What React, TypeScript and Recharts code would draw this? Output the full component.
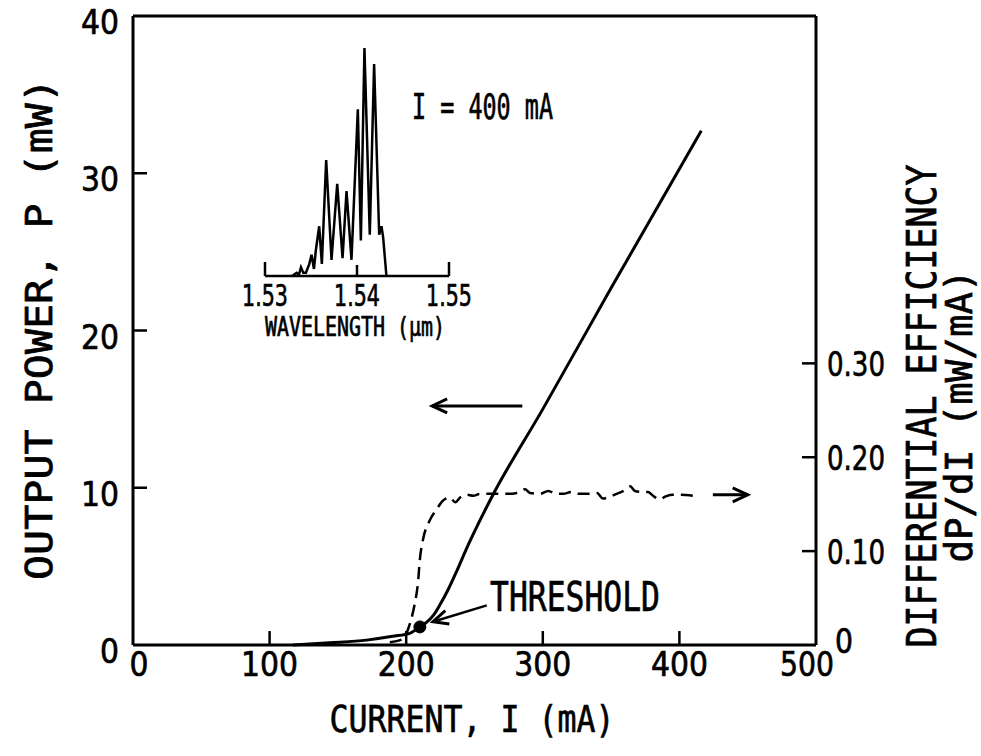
import React from 'react';
import { LineChart, Line, XAxis, YAxis, ReferenceDot } from 'recharts';

const W = 981;
const H = 756;
const FONT = '"DejaVu Sans", sans-serif';
const MONO = '"DejaVu Sans Mono", monospace';

// axis ticks
const currentTicks = [0, 100, 200, 300, 400, 500];
const powerTicks = [0, 10, 20, 30, 40];
const effTicks = [0, 0.1, 0.2, 0.3];
const topTicks = [100, 200, 300, 400];
const wlTicks = [1.53, 1.54, 1.55];

// output power P (mW) vs current I (mA), solid curve
const powerCurve = [
  { i: 117, p: 0 },
  { i: 144, p: 0.14 },
  { i: 171, p: 0.31 },
  { i: 190, p: 0.55 },
  { i: 203, p: 0.76 },
  { i: 210, p: 1.15 },
  { i: 215, p: 1.45 },
  { i: 220, p: 1.9 },
  { i: 225, p: 2.6 },
  { i: 230, p: 3.4 },
  { i: 237, p: 4.7 },
  { i: 244, p: 6.1 },
  { i: 262, p: 9.3 },
  { i: 300, p: 15.0 },
  { i: 350, p: 22.7 },
  { i: 416, p: 32.7 },
];

// differential efficiency dP/dI (mW/mA), dashed curve
const effCurve = [
  { i: 188, v: 0.003 },
  { i: 197, v: 0.006 },
  { i: 203, v: 0.024 },
  { i: 206.4, v: 0.045 },
  { i: 208.6, v: 0.066 },
  { i: 210, v: 0.091 },
  { i: 212.4, v: 0.113 },
  { i: 217, v: 0.132 },
  { i: 222.5, v: 0.145 },
  { i: 227, v: 0.154 },
  { i: 232, v: 0.157 },
  { i: 236, v: 0.152 },
  { i: 239.4, v: 0.157 },
  { i: 244.5, v: 0.16 },
  { i: 249, v: 0.159 },
  { i: 254, v: 0.161 },
  { i: 260, v: 0.161 },
  { i: 266.5, v: 0.161 },
  { i: 274, v: 0.161 },
  { i: 281, v: 0.162 },
  { i: 287, v: 0.166 },
  { i: 290.6, v: 0.162 },
  { i: 298, v: 0.161 },
  { i: 304, v: 0.164 },
  { i: 310, v: 0.161 },
  { i: 315, v: 0.161 },
  { i: 321, v: 0.163 },
  { i: 327, v: 0.161 },
  { i: 332, v: 0.161 },
  { i: 339.7, v: 0.162 },
  { i: 344, v: 0.156 },
  { i: 349, v: 0.158 },
  { i: 354, v: 0.161 },
  { i: 358.7, v: 0.164 },
  { i: 364, v: 0.169 },
  { i: 367.5, v: 0.164 },
  { i: 372.6, v: 0.163 },
  { i: 377, v: 0.163 },
  { i: 380.7, v: 0.159 },
  { i: 385.8, v: 0.155 },
  { i: 389.5, v: 0.158 },
  { i: 394.6, v: 0.16 },
  { i: 400.4, v: 0.16 },
  { i: 410, v: 0.159 },
];

// threshold point
const thresholdI = 210;
const thresholdP = 1.15;

// arrows (tail first, head last)
const leftArrow = [{ i: 285, p: 15.2 }, { i: 219, p: 15.2 }];
const rightArrow = [{ i: 424.5, v: 0.16 }, { i: 450, v: 0.16 }];
const thresholdArrow = [{ i: 259, p: 2.52 }, { i: 219.6, p: 1.48 }];

// inset spectrum at I = 400 mA, relative intensity
const spectrum = [
  { wl: 1.5329, s: 0 },
  { wl: 1.53307, s: 0.3 },
  { wl: 1.53344, s: 1.4 },
  { wl: 1.53369, s: 0.6 },
  { wl: 1.53391, s: 3.8 },
  { wl: 1.53416, s: 1.4 },
  { wl: 1.53445, s: 1.4 },
  { wl: 1.53481, s: 5.2 },
  { wl: 1.53506, s: 9.3 },
  { wl: 1.53532, s: 3.1 },
  { wl: 1.53553, s: 11.4 },
  { wl: 1.53589, s: 21.8 },
  { wl: 1.53618, s: 5.3 },
  { wl: 1.53665, s: 50.8 },
  { wl: 1.53723, s: 7.1 },
  { wl: 1.53785, s: 40.4 },
  { wl: 1.53843, s: 7.8 },
  { wl: 1.53886, s: 37.2 },
  { wl: 1.5394, s: 7.1 },
  { wl: 1.54009, s: 73.1 },
  { wl: 1.54042, s: 15.6 },
  { wl: 1.54081, s: 100 },
  { wl: 1.54139, s: 18.1 },
  { wl: 1.54186, s: 93 },
  { wl: 1.54241, s: 18.1 },
  { wl: 1.54266, s: 21.8 },
  { wl: 1.54284, s: 17 },
  { wl: 1.5432, s: 0 },
];

const labelText = (
  s: string,
  x: number,
  y: number,
  anchor: string,
  size: number,
  len: number,
  family: string = FONT,
) => (
  <text
    x={x}
    y={y}
    textAnchor={anchor as any}
    fontSize={size}
    fontFamily={family}
    fill="#000"
    stroke="#000"
    strokeWidth={0.7}
    textLength={len}
    lengthAdjust="spacingAndGlyphs"
  >
    {s}
  </text>
);

const BottomTick = (props: any) => {
  const { x, y, payload } = props;
  const v = payload.value;
  const s = String(v);
  // printed labels sit a little inside the frame at both ends
  const dx = v === 0 ? 6 : v === 500 ? -9 : 0;
  const len = v === 500 ? 54 : s.length * 19;
  return (
    <g>
      {v > 0 && v < 500 && <line x1={x} y1={y} x2={x} y2={y - 14} stroke="#000" strokeWidth={2.5} />}
      {labelText(s, x + dx, y + 31, 'middle', 34, len)}
    </g>
  );
};

const TopTick = (props: any) => {
  const { x, y } = props;
  return <line x1={x} y1={y} x2={x} y2={y + 13} stroke="#000" strokeWidth={2.5} />;
};

const LeftTick = (props: any) => {
  const { x, y, payload } = props;
  const v = payload.value;
  const s = String(v);
  return (
    <g>
      {v > 0 && v < 40 && <line x1={x} y1={y} x2={x + 14} y2={y} stroke="#000" strokeWidth={2.5} />}
      {labelText(s, x - 14, y + 18, 'end', 34, s.length * 19)}
    </g>
  );
};

const RightTick = (props: any) => {
  const { x, y, payload } = props;
  const v = payload.value;
  const s = v === 0 ? '0' : v.toFixed(2);
  return (
    <g>
      {v > 0 && <line x1={x} y1={y} x2={x - 14} y2={y} stroke="#000" strokeWidth={2.5} />}
      {labelText(s, v === 0 ? x + 19 : x + 11, v === 0 ? y + 8 : y + 13, 'start', 34, v === 0 ? 18 : 58)}
    </g>
  );
};

const WlTick = (props: any) => {
  const { x, y, payload } = props;
  const v = payload.value;
  const s = v.toFixed(2);
  const len = v === 1.54 ? 11 : 14;
  return (
    <g>
      <line x1={x} y1={y} x2={x} y2={y - len} stroke="#000" strokeWidth={2.5} />
      {labelText(s, x, y + 30, 'middle', 30, 46)}
    </g>
  );
};

// arrow head drawn at the last point of a two-point line
const arrowHead = (props: any) => {
  const { cx, cy, index, points } = props;
  if (!points || index !== points.length - 1) return <g key={`a${index}`} />;
  const prev = points[index - 1];
  const ang = Math.atan2(cy - prev.y, cx - prev.x);
  const len = 15;
  const w = 7;
  const bx = cx - len * Math.cos(ang);
  const by = cy - len * Math.sin(ang);
  const px = -Math.sin(ang) * w;
  const py = Math.cos(ang) * w;
  return (
    <path
      key={`a${index}`}
      d={`M${bx + px},${by + py} L${cx},${cy} L${bx - px},${by - py}`}
      fill="none"
      stroke="#000"
      strokeWidth={3}
    />
  );
};

const axisStroke = { stroke: '#000', strokeWidth: 3 };

export default function App() {
  return (
    <div style={{ position: 'absolute', left: 0, top: 0, width: W, height: H, background: '#fff' }}>
      <div style={{ position: 'absolute', left: 0, top: 0 }}>
        <LineChart width={W} height={H} margin={{ top: 15, right: W - 817, bottom: H - 646, left: 132 }}>
          <XAxis
            xAxisId={0}
            dataKey="i"
            type="number"
            domain={[0, 500]}
            ticks={currentTicks}
            interval={0}
            height={1}
            tickSize={0}
            tickMargin={0}
            tickLine={false}
            tick={BottomTick}
            axisLine={axisStroke}
          />
          <XAxis
            xAxisId="top"
            orientation="top"
            dataKey="i"
            type="number"
            domain={[0, 500]}
            ticks={topTicks}
            interval={0}
            height={1}
            tickSize={0}
            tickMargin={0}
            tickLine={false}
            tick={TopTick}
            axisLine={axisStroke}
          />
          <YAxis
            yAxisId="left"
            type="number"
            domain={[0, 40]}
            ticks={powerTicks}
            interval={0}
            width={1}
            tickSize={0}
            tickMargin={0}
            tickLine={false}
            tick={LeftTick}
            axisLine={axisStroke}
          />
          <YAxis
            yAxisId="right"
            orientation="right"
            type="number"
            domain={[0, 0.67]}
            ticks={effTicks}
            interval={0}
            width={1}
            tickSize={0}
            tickMargin={0}
            tickLine={false}
            tick={RightTick}
            axisLine={axisStroke}
          />
          <Line
            yAxisId="left"
            data={powerCurve}
            dataKey="p"
            type="monotone"
            stroke="#000"
            strokeWidth={3}
            dot={false}
            isAnimationActive={false}
          />
          <Line
            yAxisId="right"
            data={effCurve}
            dataKey="v"
            type="monotone"
            stroke="#000"
            strokeWidth={2.5}
            strokeDasharray="12 7"
            dot={false}
            isAnimationActive={false}
          />
          <Line
            yAxisId="left"
            data={leftArrow}
            dataKey="p"
            type="linear"
            stroke="#000"
            strokeWidth={3}
            dot={arrowHead}
            isAnimationActive={false}
          />
          <Line
            yAxisId="right"
            data={rightArrow}
            dataKey="v"
            type="linear"
            stroke="#000"
            strokeWidth={3}
            dot={arrowHead}
            isAnimationActive={false}
          />
          <Line
            yAxisId="left"
            data={thresholdArrow}
            dataKey="p"
            type="linear"
            stroke="#000"
            strokeWidth={2.5}
            dot={arrowHead}
            isAnimationActive={false}
          />
          <ReferenceDot yAxisId="left" x={thresholdI} y={thresholdP} r={6} fill="#000" stroke="#000" />
        </LineChart>
      </div>

      <div style={{ position: 'absolute', left: 0, top: 0 }}>
        <LineChart width={W} height={H} margin={{ top: 48, right: W - 449, bottom: H - 277, left: 265 }}>
          <XAxis
            dataKey="wl"
            type="number"
            domain={[1.53, 1.55]}
            ticks={wlTicks}
            interval={0}
            height={1}
            tickSize={0}
            tickMargin={0}
            tickLine={false}
            tick={WlTick}
            axisLine={{ stroke: '#000', strokeWidth: 2.5 }}
          />
          <YAxis hide type="number" domain={[0, 100]} />
          <Line
            data={spectrum}
            dataKey="s"
            type="linear"
            stroke="#000"
            strokeWidth={2.5}
            dot={false}
            isAnimationActive={false}
          />
        </LineChart>
      </div>

      <svg width={W} height={H} style={{ position: 'absolute', left: 0, top: 0, pointerEvents: 'none' }}>
        {labelText('CURRENT, I  (mA)', 472, 732, 'middle', 38, 285, MONO)}
        <g transform="translate(52,329) rotate(-90)">
          {labelText('OUTPUT POWER, P (mW)', 0, 0, 'middle', 38, 502, MONO)}
        </g>
        <g transform="translate(936,406) rotate(-90)">
          {labelText('DIFFERENTIAL  EFFICIENCY', 0, 0, 'middle', 40, 483, MONO)}
        </g>
        <g transform="translate(972,416) rotate(-90)">
          {labelText('dP/dI  (mW/mA)', 0, 0, 'middle', 37, 293, MONO)}
        </g>
        {labelText('I = 400 mA', 412, 119, 'start', 36, 141, MONO)}
        {labelText('THRESHOLD', 490, 611, 'start', 40, 170, MONO)}
        {labelText('WAVELENGTH (\u03bcm)', 355, 336, 'middle', 26, 180, MONO)}
      </svg>
    </div>
  );
}
